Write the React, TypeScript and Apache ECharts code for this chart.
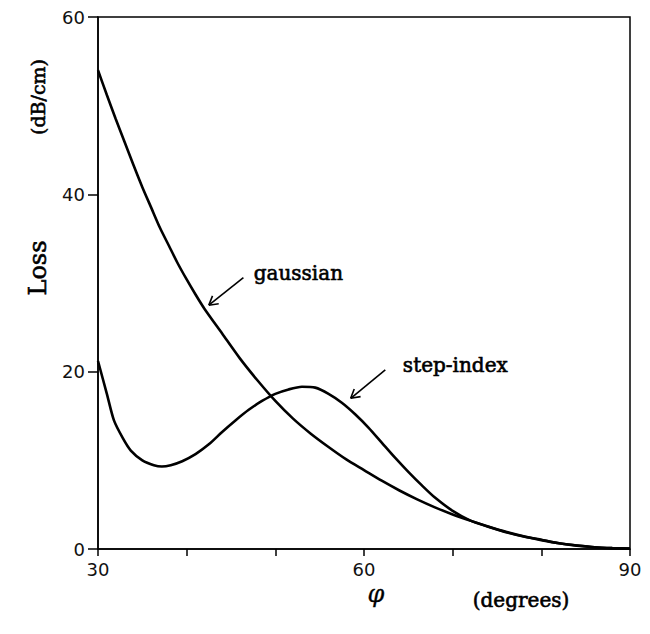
import React, { useEffect, useRef } from "react";
import * as echarts from "echarts";

// Gaussian profile: angle φ (degrees) and loss (dB/cm)
const gaussianPhi = [30, 31, 32, 33, 34, 35, 36, 37, 38, 39, 40, 41, 42, 44, 46, 48, 50, 52, 54, 56, 58, 60, 62, 64, 66, 68, 70, 72, 74, 76, 78, 80, 82, 84, 86, 88, 90];
const gaussianLoss = [54, 51.2, 48.5, 45.9, 43.3, 40.8, 38.5, 36.2, 34.2, 32.2, 30.4, 28.7, 27.1, 24.3, 21.5, 19.0, 16.7, 14.7, 13.0, 11.5, 10.1, 8.9, 7.7, 6.6, 5.6, 4.7, 3.9, 3.2, 2.5, 1.9, 1.4, 1.0, 0.65, 0.4, 0.2, 0.1, 0.05];

// Step-index profile
const stepPhi = [30, 31, 31.8, 32.8, 33.7, 35, 36.3, 37.2, 38.2, 39.5, 41, 42.5, 44, 45.5, 47, 48.5, 50, 51.5, 53, 54.5, 56, 57.5, 59, 60.5, 62, 63.5, 65, 66.5, 68, 70, 72, 74, 76, 78, 80, 82, 84, 86, 88, 90];
const stepLoss = [21.2, 17.5, 14.5, 12.5, 11.1, 10.0, 9.45, 9.3, 9.45, 9.9, 10.7, 11.8, 13.2, 14.5, 15.7, 16.7, 17.5, 18.0, 18.3, 18.2, 17.5, 16.5, 15.2, 13.7, 12.0, 10.3, 8.7, 7.2, 5.8, 4.3, 3.2, 2.55, 1.95, 1.45, 1.05, 0.65, 0.38, 0.2, 0.1, 0.05];

const xLabeledTicks = [30, 60, 90];

// annotation texts and their anchors in data coordinates
const annotationTexts = ["gaussian", "step-index"];
const annotationLabelAt = [[52.6, 31.1], [70.3, 20.75]];
const annotationTailAt = [[46.4, 30.6], [62.4, 20.2]];
const annotationHeadAt = [[42.5, 27.5], [58.5, 17.0]];

const zip = (a: number[], b: number[]) => a.map((v, i) => [v, b[i]]);

export default function App() {
  const ref = useRef<HTMLDivElement>(null);

  useEffect(() => {
    if (!ref.current) return;
    const chart = echarts.init(ref.current, null, { renderer: "svg" });
    const tickFont = { fontFamily: "DejaVu Sans", fontSize: 18, color: "#111" };
    chart.setOption({
      animation: false,
      backgroundColor: "#fff",
      grid: {
        left: 98,
        right: 20,
        top: 17,
        bottom: 85,
        show: true,
        borderColor: "#000",
        borderWidth: 1.5,
      },
      xAxis: {
        type: "value",
        min: 30,
        max: 90,
        interval: 10,
        axisLine: { lineStyle: { color: "#000", width: 1.5 } },
        axisTick: { inside: false, length: 7, lineStyle: { color: "#000", width: 1.5 } },
        axisLabel: {
          ...tickFont,
          margin: 11,
          formatter: (v: number) => (xLabeledTicks.includes(v) ? String(v) : ""),
        },
        splitLine: { show: false },
      },
      yAxis: {
        type: "value",
        min: 0,
        max: 60,
        interval: 20,
        axisLine: { show: true, lineStyle: { color: "#000", width: 1.5 } },
        axisTick: { show: true, inside: false, length: 10, lineStyle: { color: "#000", width: 1.5 } },
        axisLabel: { ...tickFont, margin: 13 },
        splitLine: { show: false },
      },
      series: [
        {
          name: "gaussian",
          type: "line",
          data: zip(gaussianPhi, gaussianLoss),
          showSymbol: false,
          smooth: 0.25,
          lineStyle: { color: "#000", width: 2.6 },
        },
        {
          name: "step-index",
          type: "line",
          data: zip(stepPhi, stepLoss),
          showSymbol: false,
          smooth: 0.25,
          lineStyle: { color: "#000", width: 2.6 },
        },
      ],
    });

    const px = (p: number[]) => chart.convertToPixel({ gridIndex: 0 }, p) as number[];
    const graphics: any[] = [];
    const serifFont = "DejaVu Serif";
    const textStyle = (text: string, fontSize: number, extra: any = {}) => ({
      text,
      fontFamily: serifFont,
      fontSize,
      fill: "#000",
      stroke: "#000",
      lineWidth: 0.6,
      align: "center",
      verticalAlign: "middle",
      textAlign: "center",
      textVerticalAlign: "middle",
      ...extra,
    });

    annotationTexts.forEach((t, i) => {
      const L = px(annotationLabelAt[i]);
      const T = px(annotationTailAt[i]);
      const H = px(annotationHeadAt[i]);
      graphics.push({ type: "text", x: L[0], y: L[1], style: textStyle(t, 20) });
      graphics.push({
        type: "line",
        shape: { x1: T[0], y1: T[1], x2: H[0], y2: H[1] },
        style: { stroke: "#000", lineWidth: 1.6 },
      });
      const dx = T[0] - H[0];
      const dy = T[1] - H[1];
      const len = Math.hypot(dx, dy);
      const ux = dx / len;
      const uy = dy / len;
      const a = (30 * Math.PI) / 180;
      const hl = 10;
      [a, -a].forEach((ang) => {
        const rx = ux * Math.cos(ang) - uy * Math.sin(ang);
        const ry = ux * Math.sin(ang) + uy * Math.cos(ang);
        graphics.push({
          type: "line",
          shape: { x1: H[0], y1: H[1], x2: H[0] + rx * hl, y2: H[1] + ry * hl },
          style: { stroke: "#000", lineWidth: 1.6 },
        });
      });
    });

    // axis titles
    graphics.push(
      { type: "text", x: 38, y: 268, rotation: Math.PI / 2, style: textStyle("Loss", 24) },
      { type: "text", x: 38, y: 97, rotation: Math.PI / 2, style: textStyle("(dB/cm)", 19) },
      { type: "text", x: 376, y: 594, style: textStyle("φ", 24, { fontStyle: "italic", lineWidth: 0.3 }) },
      { type: "text", x: 521, y: 600, style: textStyle("(degrees)", 20) }
    );

    chart.setOption({ graphic: graphics });

    return () => chart.dispose();
  }, []);

  return (
    <div
      ref={ref}
      style={{ position: "absolute", left: 0, top: 0, width: 650, height: 634, background: "#fff" }}
    />
  );
}
